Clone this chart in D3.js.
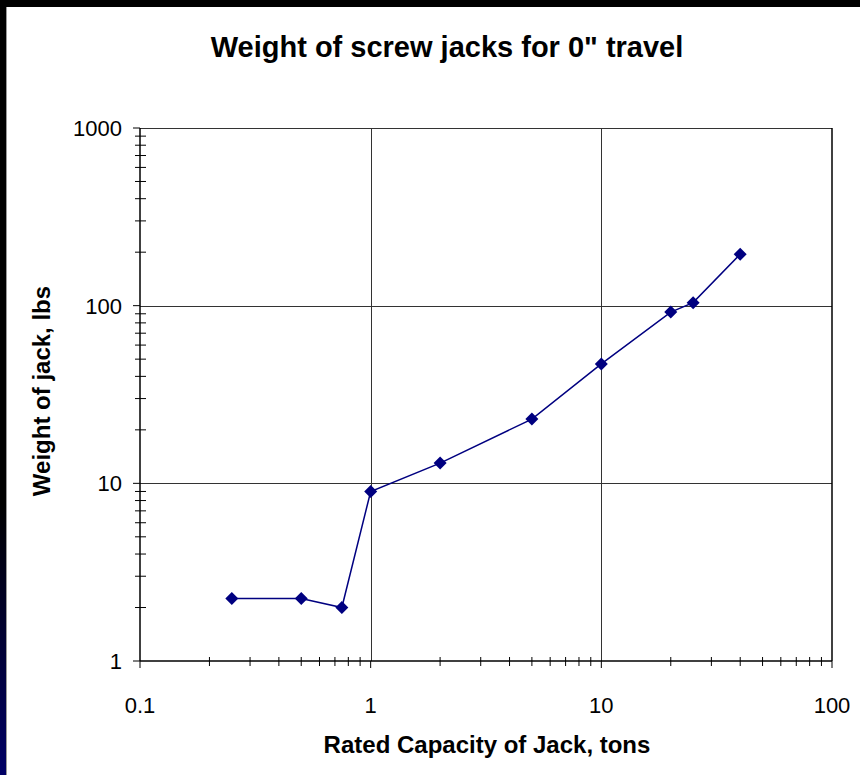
<!DOCTYPE html>
<html><head><meta charset="utf-8">
<script src="https://cdn.jsdelivr.net/npm/d3@7"></script>
<style>html,body{margin:0;padding:0;background:#fff;}svg{display:block;}</style>
</head><body>
<script>
const capacities = [0.25, 0.5, 0.75, 1, 2, 5, 10, 20, 25, 40];
const weights = [2.25, 2.25, 2.0, 9, 13, 23, 47, 92, 104, 195];
const xTickLabels = ["0.1", "1", "10", "100"];
const yTickLabels = ["1", "10", "100", "1000"];
const chartTitle = "Weight of screw jacks for 0\" travel";
const xTitle = "Rated Capacity of Jack, tons";
const yTitle = "Weight of jack, lbs";

(function () {
const W = 860, H = 775;
const svg = d3.select("body").append("svg").attr("width", W).attr("height", H);
const defs = svg.append("defs");
const g = defs.append("linearGradient").attr("id","lg").attr("x1",0).attr("y1",0).attr("x2",0).attr("y2",1);
g.append("stop").attr("offset","0%").attr("stop-color","#000");
g.append("stop").attr("offset","65%").attr("stop-color","#000");
g.append("stop").attr("offset","100%").attr("stop-color","#000066");

svg.append("rect").attr("width",W).attr("height",H).attr("fill","#fff");
svg.append("rect").attr("x",0).attr("y",0).attr("width",W).attr("height",7).attr("fill","#000");
svg.append("rect").attr("x",0).attr("y",0).attr("width",6).attr("height",H).attr("fill","url(#lg)");
svg.append("rect").attr("x",6).attr("y",7).attr("width",1).attr("height",H).attr("fill","#999");

const pLeft = 140, pRight = 832, pTop = 128, pBottom = 661;
const x = d3.scaleLog().domain([0.1, 100]).range([pLeft, pRight]);
const y = d3.scaleLog().domain([1, 1000]).range([pBottom, pTop]);

const font = "'Liberation Sans', Arial, sans-serif";

const xMinor = [], yMinor = [];
[0.1, 1, 10].forEach(d => { for (let k = 2; k <= 9; k++) xMinor.push(d * k); });
[1, 10, 100].forEach(d => { for (let k = 2; k <= 9; k++) yMinor.push(d * k); });
const xMajor = xTickLabels.map(Number), yMajor = yTickLabels.map(Number);

// gridlines
svg.append("g").selectAll("line").data(xMajor.slice(1, -1)).join("line")
  .attr("x1", d => Math.round(x(d)) + 0.5).attr("x2", d => Math.round(x(d)) + 0.5).attr("y1", pTop).attr("y2", pBottom)
  .attr("stroke", "#333").attr("stroke-width", 1);
svg.append("g").selectAll("line").data(yMajor.slice(1, -1)).join("line")
  .attr("y1", d => Math.round(y(d)) + 0.5).attr("y2", d => Math.round(y(d)) + 0.5).attr("x1", pLeft).attr("x2", pRight)
  .attr("stroke", "#333").attr("stroke-width", 1);

// frame
svg.append("line").attr("x1",pLeft).attr("x2",pRight).attr("y1",pTop + 0.5).attr("y2",pTop + 0.5).attr("stroke","#333");
svg.append("line").attr("x1",pRight).attr("x2",pRight).attr("y1",pTop).attr("y2",pBottom).attr("stroke","#000").attr("stroke-width",1.5);

// axes
svg.append("line").attr("x1",pLeft).attr("x2",pRight).attr("y1",pBottom).attr("y2",pBottom).attr("stroke","#000").attr("stroke-width",1.5);
svg.append("line").attr("x1",pLeft).attr("x2",pLeft).attr("y1",pTop).attr("y2",pBottom).attr("stroke","#000").attr("stroke-width",1.5);

svg.append("g").selectAll("line").data(xMinor).join("line")
  .attr("x1", d => x(d)).attr("x2", d => x(d)).attr("y1", pBottom - 4).attr("y2", pBottom + 5)
  .attr("stroke", "#000").attr("stroke-width", 1);
svg.append("g").selectAll("line").data(xMajor).join("line")
  .attr("x1", d => x(d)).attr("x2", d => x(d)).attr("y1", pBottom).attr("y2", pBottom + 7)
  .attr("stroke", "#000").attr("stroke-width", 1);
svg.append("g").selectAll("line").data(yMinor).join("line")
  .attr("y1", d => y(d)).attr("y2", d => y(d)).attr("x1", pLeft - 5).attr("x2", pLeft + 6)
  .attr("stroke", "#000").attr("stroke-width", 1);
svg.append("g").selectAll("line").data(yMajor).join("line")
  .attr("y1", d => y(d)).attr("y2", d => y(d)).attr("x1", pLeft - 7).attr("x2", pLeft)
  .attr("stroke", "#000").attr("stroke-width", 1);

// tick labels
svg.append("g").selectAll("text").data(xTickLabels).join("text")
  .attr("x", d => x(+d)).attr("y", 713).attr("text-anchor","middle")
  .attr("font-family", font).attr("font-size", 22).text(d => d);
svg.append("g").selectAll("text").data(yTickLabels).join("text")
  .attr("x", 122).attr("y", d => y(+d) + 8).attr("text-anchor","end")
  .attr("font-family", font).attr("font-size", 22).text(d => d);

// titles
svg.append("text").attr("x", 447).attr("y", 57).attr("text-anchor","middle")
  .attr("font-family", font).attr("font-weight","bold").attr("font-size", 29).text(chartTitle);
svg.append("text").attr("x", 487).attr("y", 753).attr("text-anchor","middle")
  .attr("font-family", font).attr("font-weight","bold").attr("font-size", 24).text(xTitle);
svg.append("text").attr("transform","translate(50,391) rotate(-90)").attr("text-anchor","middle")
  .attr("font-family", font).attr("font-weight","bold").attr("font-size", 24).text(yTitle);

// series
const pts = capacities.map((c, i) => [c, weights[i]]);
svg.append("path").datum(pts)
  .attr("d", d3.line().x(d => x(d[0])).y(d => y(d[1])))
  .attr("fill","none").attr("stroke","#000080").attr("stroke-width",1.5);
svg.append("g").selectAll("path").data(pts).join("path")
  .attr("transform", d => `translate(${x(d[0])},${y(d[1])})`)
  .attr("d", "M0,-6.5L6.5,0L0,6.5L-6.5,0Z").attr("fill","#000080");
})();
</script>
</body></html>
